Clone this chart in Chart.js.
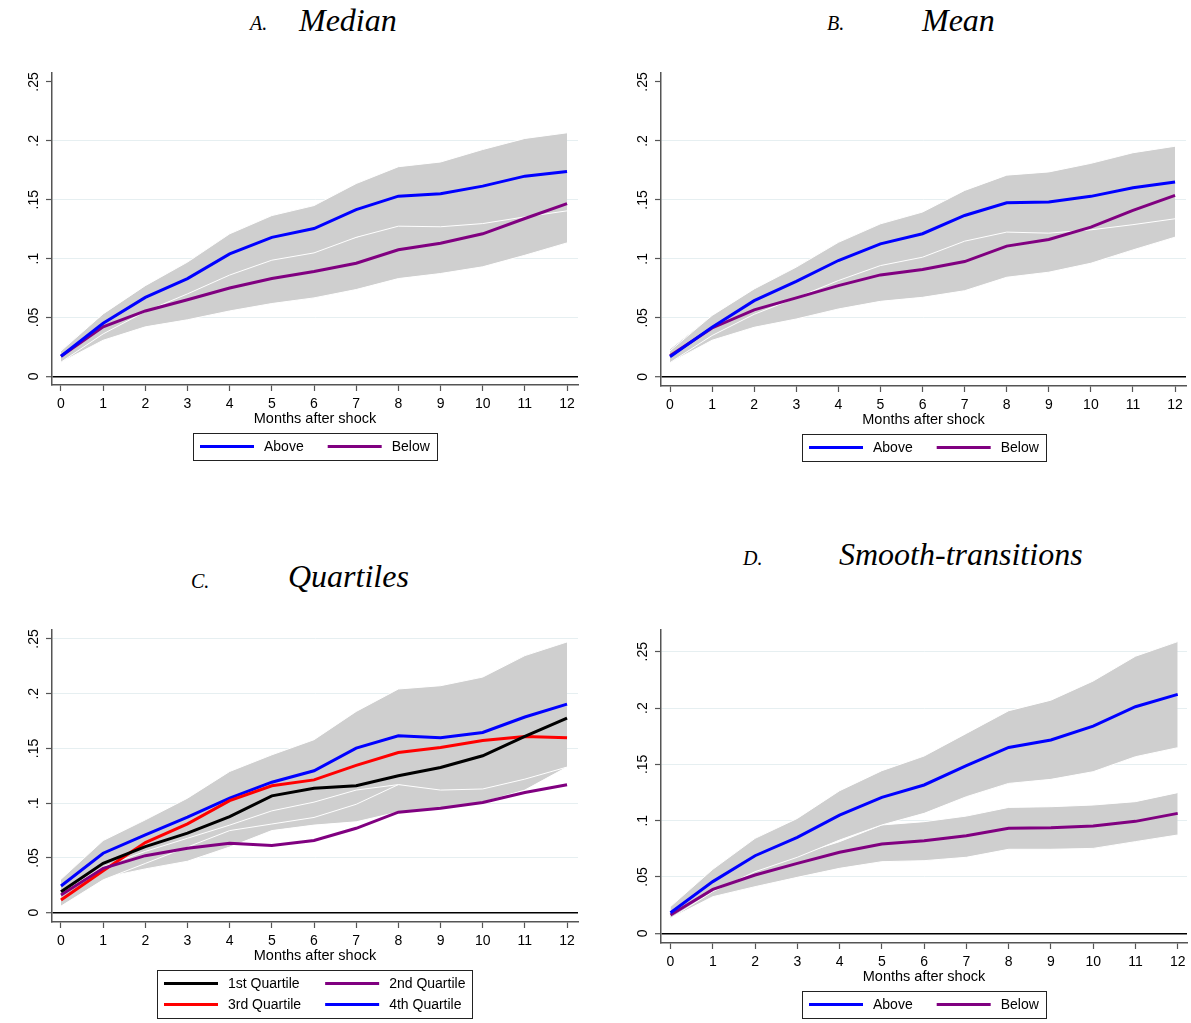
<!DOCTYPE html>
<html>
<head>
<meta charset="utf-8">
<script src="https://cdn.jsdelivr.net/npm/chart.js@4.4.1/dist/chart.umd.min.js"></script>
<style>
body { margin: 0; background: #fff; width: 1191px; height: 1023px; position: relative; overflow: hidden; }
.panel { position: absolute; }
.t { position: absolute; font-family: "Liberation Serif", serif; font-style: italic; line-height: 1; white-space: nowrap; color: #000; }
.big { font-size: 32px; }
.small { font-size: 20px; }
</style>
</head>
<body>
<span class="t small" style="left:250px;top:13px">A.</span>
<span class="t big" style="left:299px;top:4px">Median</span>
<span class="t small" style="left:827px;top:13px">B.</span>
<span class="t big" style="left:922px;top:4px">Mean</span>
<span class="t small" style="left:191px;top:571px">C.</span>
<span class="t big" style="left:288px;top:560px">Quartiles</span>
<span class="t small" style="left:743px;top:548px">D.</span>
<span class="t big" style="left:839px;top:538px">Smooth-transitions</span>

<div class="panel" style="left:0;top:50px;width:595px;height:440px"><canvas id="chartA"></canvas></div>
<div class="panel" style="left:600px;top:50px;width:591px;height:440px"><canvas id="chartB"></canvas></div>
<div class="panel" style="left:0;top:600px;width:595px;height:423px"><canvas id="chartC"></canvas></div>
<div class="panel" style="left:600px;top:600px;width:591px;height:423px"><canvas id="chartD"></canvas></div>

<script>
// months after shock and axis ticks
let months = [0, 1, 2, 3, 4, 5, 6, 7, 8, 9, 10, 11, 12]
let monthLabels = ["0", "1", "2", "3", "4", "5", "6", "7", "8", "9", "10", "11", "12"]
let yTicks = [0, 0.05, 0.1, 0.15, 0.2, 0.25]
let yTickLabels = ["0", ".05", ".1", ".15", ".2", ".25"]
let xTitle = "Months after shock"

// A. Median
let medianAbove = [0.017, 0.045, 0.067, 0.083, 0.104, 0.118, 0.1255, 0.1415, 0.153, 0.155, 0.1615, 0.17, 0.174]
let medianAboveHi = [0.0215, 0.053, 0.077, 0.097, 0.121, 0.1365, 0.145, 0.1637, 0.178, 0.182, 0.1926, 0.202, 0.2068]
let medianAboveLo = [0.012, 0.036, 0.055, 0.07, 0.086, 0.0986, 0.1048, 0.118, 0.1275, 0.127, 0.1297, 0.1354, 0.1405]
let medianBelow = [0.017, 0.042, 0.0555, 0.065, 0.075, 0.083, 0.089, 0.096, 0.1075, 0.113, 0.121, 0.134, 0.1467]
let medianBelowHi = [0.022, 0.053, 0.069, 0.082, 0.094, 0.104, 0.111, 0.118, 0.132, 0.138, 0.149, 0.165, 0.18]
let medianBelowLo = [0.012, 0.0306, 0.042, 0.048, 0.0555, 0.0618, 0.0666, 0.0737, 0.083, 0.0873, 0.093, 0.1028, 0.1133]

// B. Mean
let meanAbove = [0.017, 0.042, 0.0646, 0.081, 0.0986, 0.1127, 0.1213, 0.1368, 0.1476, 0.1482, 0.153, 0.1603, 0.1652]
let meanAboveHi = [0.022, 0.052, 0.0745, 0.093, 0.114, 0.1297, 0.1397, 0.158, 0.171, 0.1737, 0.181, 0.19, 0.1955]
let meanAboveLo = [0.012, 0.035, 0.053, 0.067, 0.0816, 0.0943, 0.1014, 0.115, 0.1227, 0.1218, 0.1246, 0.129, 0.134]
let meanBelow = [0.0178, 0.0414, 0.0567, 0.0669, 0.0773, 0.0864, 0.0909, 0.0977, 0.1108, 0.1164, 0.1269, 0.1411, 0.1538]
let meanBelowHi = [0.0236, 0.052, 0.071, 0.085, 0.097, 0.109, 0.114, 0.122, 0.137, 0.144, 0.158, 0.175, 0.189]
let meanBelowLo = [0.012, 0.031, 0.042, 0.049, 0.0575, 0.064, 0.0674, 0.073, 0.0844, 0.0887, 0.0963, 0.1076, 0.1184]

// C. Quartiles
let q1 = [0.0192, 0.0451, 0.0604, 0.0726, 0.0878, 0.1067, 0.1137, 0.1159, 0.125, 0.1326, 0.1433, 0.161, 0.1777]
let q1Hi = [0.03, 0.058, 0.081, 0.098, 0.116, 0.138, 0.147, 0.149, 0.158, 0.17, 0.186, 0.207, 0.222]
let q1Lo = [0.008, 0.032, 0.04, 0.047, 0.06, 0.075, 0.08, 0.083, 0.092, 0.095, 0.101, 0.112, 0.133]
let q2 = [0.0162, 0.0405, 0.0521, 0.0588, 0.0634, 0.0613, 0.0659, 0.0771, 0.0918, 0.0954, 0.1006, 0.1098, 0.1168]
let q3 = [0.0116, 0.0384, 0.064, 0.0811, 0.1024, 0.1159, 0.1213, 0.1345, 0.1463, 0.1509, 0.1573, 0.161, 0.1598]
let q3Hi = [0.018, 0.051, 0.083, 0.102, 0.126, 0.142, 0.155, 0.17, 0.176, 0.183, 0.19, 0.195, 0.194]
let q3Lo = [0.006, 0.03, 0.045, 0.06, 0.075, 0.081, 0.087, 0.099, 0.117, 0.119, 0.124, 0.127, 0.133]
let q4 = [0.0244, 0.0543, 0.071, 0.0872, 0.1046, 0.1192, 0.1296, 0.1503, 0.1616, 0.1598, 0.1646, 0.1787, 0.1905]
let q4Hi = [0.0305, 0.0659, 0.0848, 0.1046, 0.129, 0.1442, 0.158, 0.1838, 0.2043, 0.2073, 0.2152, 0.2348, 0.2473]
let q4Lo = [0.018, 0.042, 0.056, 0.068, 0.08, 0.093, 0.101, 0.112, 0.117, 0.112, 0.113, 0.122, 0.133]

// D. Smooth-transitions
let smAbove = [0.0183, 0.0459, 0.0689, 0.0852, 0.105, 0.1207, 0.1317, 0.1488, 0.165, 0.1716, 0.184, 0.2012, 0.2121]
let smAboveHi = [0.0237, 0.0568, 0.0843, 0.102, 0.1266, 0.1444, 0.1574, 0.1775, 0.1976, 0.207, 0.224, 0.246, 0.259]
let smAboveLo = [0.0133, 0.037, 0.0547, 0.0675, 0.0828, 0.0962, 0.1065, 0.1213, 0.1331, 0.1367, 0.1435, 0.1568, 0.1648]
let smBelow = [0.0163, 0.039, 0.0518, 0.0621, 0.0719, 0.0793, 0.0822, 0.0867, 0.0932, 0.0938, 0.0953, 0.0994, 0.1065]
let smBelowHi = [0.0192, 0.0444, 0.0592, 0.0695, 0.0814, 0.0962, 0.0991, 0.1041, 0.1118, 0.1124, 0.1139, 0.1169, 0.1249]
let smBelowLo = [0.0133, 0.0325, 0.0414, 0.0497, 0.0577, 0.0636, 0.0645, 0.0675, 0.0746, 0.0746, 0.0754, 0.0814, 0.0873]

let blue = "#0000ff"
let purple = "#800080"
let red = "#ff0000"
let black = "#000000"
let bandGray = "#cfcfcf"
let axisGray = "#555555"
let sans = "'Liberation Sans', Arial, sans-serif"

function toPoints(values) {
    return values.map((v, i) => ({ x: months[i], y: v }))
}

function buildDatasets(lines, bands) {
    let ds = []
    lines.forEach(l => {
        ds.push({ label: l.label, data: toPoints(l.values), borderColor: l.color, backgroundColor: l.color,
            borderWidth: 3, pointRadius: 0, fill: false, order: 0, inLegend: true })
    })
    // first band in the list is painted first, the lines go on top of everything
    bands.forEach((b, k) => {
        let order = bands.length - k
        let lo = ds.length
        ds.push({ data: toPoints(b.lower), borderColor: "#ffffff", borderWidth: 1, pointRadius: 0, fill: false, order: order })
        ds.push({ data: toPoints(b.upper), borderColor: "#ffffff", borderWidth: 1, pointRadius: 0,
            fill: lo, backgroundColor: bandGray, order: order })
    })
    return ds
}

// stata style legend: framed box, line samples, set number of columns
let boxLegend = {
    id: "boxLegend",
    afterDraw(chart, args, opts) {
        let ctx = chart.ctx
        let area = chart.chartArea
        let items = chart.data.datasets.filter(d => d.inLegend)
        let cols = opts.cols
        let rows = Math.ceil(items.length / cols)
        ctx.save()
        ctx.font = "14px " + sans
        let colW = []
        items.forEach((it, i) => {
            let w = opts.lineLen + opts.textGap + ctx.measureText(it.label).width
            let c = i % cols
            colW[c] = Math.max(colW[c] || 0, w)
        })
        let width = opts.padX * 2 + colW.reduce((a, b) => a + b, 0) + opts.colGap * (cols - 1)
        let height = rows * opts.rowH + opts.padY * 2
        let left = Math.round((area.left + area.right) / 2 - width / 2)
        let top = Math.round(area.bottom + opts.offset)
        ctx.strokeStyle = "#222"
        ctx.lineWidth = 1
        ctx.strokeRect(left + 0.5, top + 0.5, Math.round(width), height)
        ctx.textBaseline = "middle"
        ctx.fillStyle = "#000"
        items.forEach((it, i) => {
            let c = i % cols
            let r = Math.floor(i / cols)
            let x = left + opts.padX
            for (let j = 0; j < c; j++) x += colW[j] + opts.colGap
            let y = top + opts.padY + opts.rowH * (r + 0.5)
            ctx.strokeStyle = it.borderColor
            ctx.lineWidth = 3
            ctx.beginPath()
            ctx.moveTo(x, y)
            ctx.lineTo(x + opts.lineLen, y)
            ctx.stroke()
            ctx.fillText(it.label, x + opts.lineLen + opts.textGap, y + 1)
        })
        ctx.restore()
    }
}

function makePanel(id, p) {
    let ctx = document.getElementById(id).getContext("2d")
    return new Chart(ctx, {
        type: "line",
        data: { datasets: buildDatasets(p.lines, p.bands) },
        options: {
            responsive: true,
            maintainAspectRatio: false,
            animation: false,
            events: [],
            layout: { padding: p.padding },
            plugins: {
                legend: { display: false },
                tooltip: { enabled: false },
                boxLegend: { cols: p.legendCols, lineLen: 54, textGap: 10, colGap: 24, padX: 7, padY: 3, rowH: 21, offset: 48 }
            },
            scales: {
                x: {
                    type: "linear",
                    min: p.xMin,
                    max: p.xMax,
                    afterBuildTicks: s => { s.ticks = months.map(m => ({ value: m })) },
                    afterFit: s => { s.height = 45 },
                    ticks: { autoSkip: false, maxRotation: 0, padding: 5, color: "#000", font: { family: sans, size: 14 },
                        callback: v => monthLabels[months.indexOf(v)] },
                    grid: { drawOnChartArea: false, drawTicks: true, tickLength: 6, tickColor: axisGray, tickWidth: 1.2 },
                    border: { color: axisGray, width: 1.5 },
                    title: { display: true, text: xTitle, color: "#000", font: { family: sans, size: 14.5 }, padding: { top: 0, bottom: 2 } }
                },
                y: {
                    type: "linear",
                    min: p.yMin,
                    max: p.yMax,
                    afterBuildTicks: s => { s.ticks = yTicks.map(v => ({ value: v })) },
                    afterFit: s => { s.width = p.yAxisWidth },
                    ticks: { autoSkip: false, minRotation: 90, maxRotation: 90, crossAlign: "center", padding: 2, color: "#000",
                        font: { family: sans, size: 14 }, callback: v => yTickLabels[yTicks.indexOf(v)] },
                    grid: {
                        color: c => {
                            let v = c.tick ? c.tick.value : null
                            if (v === 0) return "#000"
                            if (v === 0.25 && p.hideTopGrid) return "rgba(0,0,0,0)"
                            return "#e6eff1"
                        },
                        lineWidth: c => (c.tick && c.tick.value === 0) ? 1.4 : 1,
                        drawTicks: true, tickLength: 6, tickColor: axisGray, tickWidth: 1.2
                    },
                    border: { color: axisGray, width: 1.5 }
                }
            }
        },
        plugins: [boxLegend]
    })
}

makePanel("chartA", {
    lines: [{ label: "Above", color: blue, values: medianAbove }, { label: "Below", color: purple, values: medianBelow }],
    bands: [{ lower: medianBelowLo, upper: medianBelowHi }, { lower: medianAboveLo, upper: medianAboveHi }],
    legendCols: 2, padding: { left: 0, top: 23, right: 17, bottom: 60 }, yAxisWidth: 52,
    xMin: -0.213, xMax: 12.26, yMin: -0.0074, yMax: 0.2576, hideTopGrid: true
})

makePanel("chartB", {
    lines: [{ label: "Above", color: blue, values: meanAbove }, { label: "Below", color: purple, values: meanBelow }],
    bands: [{ lower: meanBelowLo, upper: meanBelowHi }, { lower: meanAboveLo, upper: meanAboveHi }],
    legendCols: 2, padding: { left: 0, top: 23, right: 5, bottom: 59 }, yAxisWidth: 61,
    xMin: -0.214, xMax: 12.26, yMin: -0.0078, yMax: 0.2576, hideTopGrid: true
})

makePanel("chartC", {
    lines: [{ label: "1st Quartile", color: black, values: q1 }, { label: "2nd Quartile", color: purple, values: q2 },
        { label: "3rd Quartile", color: red, values: q3 }, { label: "4th Quartile", color: blue, values: q4 }],
    bands: [{ lower: q1Lo, upper: q1Hi }, { lower: q3Lo, upper: q3Hi }, { lower: q4Lo, upper: q4Hi }],
    legendCols: 2, padding: { left: 0, top: 30, right: 17, bottom: 56 }, yAxisWidth: 52,
    xMin: -0.213, xMax: 12.26, yMin: -0.0085, yMax: 0.2582, hideTopGrid: false
})

makePanel("chartD", {
    lines: [{ label: "Above", color: blue, values: smAbove }, { label: "Below", color: purple, values: smBelow }],
    bands: [{ lower: smBelowLo, upper: smBelowHi }, { lower: smAboveLo, upper: smAboveHi }],
    legendCols: 2, padding: { left: 0, top: 30, right: 4, bottom: 35 }, yAxisWidth: 61,
    xMin: -0.225, xMax: 12.22, yMin: -0.0086, yMax: 0.2693, hideTopGrid: false
})
</script>
</body>
</html>
